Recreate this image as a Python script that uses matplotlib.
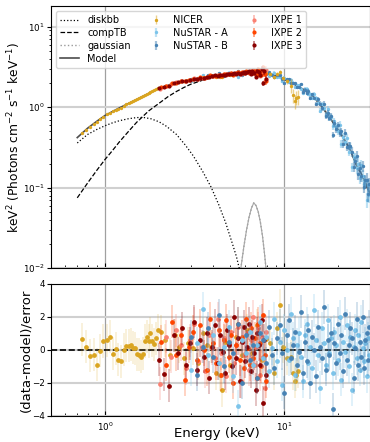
import matplotlib
matplotlib.use("Agg")
import matplotlib.pyplot as plt
from matplotlib.colors import to_rgba
import numpy as np

# Model curves (energy in keV, flux in keV^2 photons cm^-2 s^-1 keV^-1)
model_energy = [0.7, 0.8, 0.9, 1.0, 1.2, 1.5, 2.0, 2.5, 3.0, 3.5,
                4.0, 4.5, 5.0, 5.5, 6.0, 6.5, 7.0, 7.5, 8.0, 8.5,
                9.0, 9.5, 10, 11, 12, 13, 14, 15, 16, 17,
                18, 19, 20, 21, 22, 23, 24, 25, 26, 27,
                28, 29, 30]
model_flux = [0.42, 0.55, 0.67, 0.79, 0.98, 1.25, 1.72, 2.02, 2.20, 2.33,
              2.45, 2.53, 2.60, 2.66, 2.70, 2.72, 2.72, 2.68, 2.62, 2.55,
              2.45, 2.34, 2.22, 2.00, 1.80, 1.62, 1.43, 1.24, 1.05, 0.87,
              0.73, 0.61, 0.52, 0.44, 0.37, 0.31, 0.25, 0.20, 0.17, 0.145,
              0.12, 0.10, 0.085]

diskbb_energy = [0.7, 0.8, 0.9, 1.0, 1.1, 1.2, 1.35, 1.5, 1.65, 1.8,
                 2.0, 2.2, 2.5, 2.8, 3.1, 3.5, 3.9, 4.3, 4.7, 5.1, 5.4, 5.7]
diskbb_flux = [0.36, 0.46, 0.53, 0.59, 0.64, 0.68, 0.72, 0.745, 0.745, 0.72,
               0.66, 0.58, 0.46, 0.34, 0.25, 0.16, 0.102, 0.062, 0.037, 0.021, 0.014, 0.0085]

comptb_energy = [0.7, 0.8, 0.9, 1.0, 1.1, 1.2, 1.35, 1.5, 1.75, 2.0,
                 2.25, 2.5, 2.75, 3.0, 3.5, 4.0, 4.5, 5.0, 5.5, 6.0,
                 6.5, 7.0, 7.5, 8.0, 8.5, 9.0, 9.5, 10, 11, 12,
                 13, 14, 15, 16, 17, 18, 19, 20, 21, 22,
                 23, 24, 25, 26, 27, 28, 29, 30]
comptb_flux = [0.075, 0.115, 0.165, 0.225, 0.29, 0.37, 0.50, 0.65, 0.90, 1.12,
               1.36, 1.57, 1.76, 1.93, 2.17, 2.36, 2.48, 2.57, 2.64, 2.67,
               2.66, 2.66, 2.66, 2.61, 2.55, 2.45, 2.34, 2.22, 2.00, 1.80,
               1.62, 1.43, 1.24, 1.05, 0.87, 0.73, 0.61, 0.52, 0.44, 0.37,
               0.31, 0.25, 0.20, 0.17, 0.145, 0.12, 0.10, 0.085]

gauss_energy = [5.55, 5.75, 5.95, 6.15, 6.35, 6.55, 6.75, 6.95, 7.15, 7.35, 7.55, 7.75, 7.95]
gauss_flux = [0.0065, 0.011, 0.019, 0.030, 0.043, 0.056, 0.065, 0.060, 0.050, 0.037, 0.025, 0.015, 0.0085]

# NICER
nicer_energy = [0.74, 0.78, 0.82, 0.865, 0.90, 0.94, 0.98, 1.02, 1.06, 1.11,
                1.15, 1.18, 1.22, 1.27, 1.31, 1.36, 1.40, 1.43, 1.47, 1.51,
                1.54, 1.58, 1.63, 1.67, 1.71, 1.75, 1.79, 1.83, 1.88, 1.93,
                1.98, 2.05, 2.15, 2.3, 2.45, 2.6, 2.75, 2.9, 3.1, 3.3,
                3.5, 3.7, 3.9, 4.15, 4.4, 4.5, 4.65, 5.0, 5.4, 5.8,
                6.2, 6.6, 7.0, 7.5, 7.9, 8.3, 8.7, 9.1, 9.5, 9.8,
                10.3, 10.9, 11.2, 11.4, 11.6, 11.9]
nicer_flux = [0.473, 0.521, 0.573, 0.623, 0.659, 0.71, 0.764, 0.815, 0.857, 0.888,
              0.931, 0.949, 0.993, 1.04, 1.083, 1.123, 1.163, 1.182, 1.221, 1.257,
              1.286, 1.325, 1.367, 1.418, 1.462, 1.498, 1.545, 1.579, 1.615, 1.672,
              1.72, 1.78, 1.84, 1.90, 2.02, 2.07, 2.10, 2.18, 2.23, 2.25,
              2.36, 2.39, 2.44, 2.38, 2.41, 2.37, 2.57, 2.54, 2.70, 2.66,
              2.79, 2.71, 2.88, 2.62, 2.70, 2.62, 2.37, 2.62, 2.72, 2.30,
              2.09, 1.86, 1.41, 1.19, 1.32, 1.35]
nicer_relerr = [0.01] * 31 + [0.015] * 12 + [0.025] * 9 + [0.04] * 5 + [0.06] * 4 + [0.2] * 5
nicer_resid = [0.66, 0.2, -0.36, -0.3, -0.9, -0.06, 0.54, 0.6, 0.8, -0.22,
               0.06, -0.6, -0.7, 0.02, 0.24, 0.26, 0.3, 0.14, 0.1, -0.26,
               -0.3, -0.4, -0.22, 0.54, 0.8, 0.54, 1.0, 0.56, 0.34, 0.7,
               1.2, 1.1, 0.6, -0.3, 0.9, 0.2, -0.5, 0.4, 0.1, -0.8,
               1.0, 0.3, 0.2, -1.4, -1.5, -2.45, 0.5, -0.9, 0.8, -0.3,
               1.2, -0.2, 1.5, -0.6, 0.66, 0.4, -1.4, 1.3, 2.7, 0.2,
               -0.5, -0.4, -1.4, -1.9, -1.5, -1.3]

# NuSTAR (both modules share the binning)
nustar_energy = [3.0, 3.25, 3.5, 3.75, 4.0, 4.3, 4.6, 4.9, 5.2, 5.5,
                 5.8, 6.1, 6.4, 6.7, 7.0, 7.3, 7.6, 7.9, 8.2, 8.5,
                 8.8, 9.1, 9.4, 9.7, 10.0, 10.3, 10.6, 10.9, 11.2, 11.5,
                 11.8, 12.1, 12.4, 12.7, 13.0, 13.3, 13.6, 13.9, 14.2, 14.6,
                 15.0, 15.4, 15.8, 16.2, 16.6, 17.0, 17.4, 17.8, 18.2, 18.6,
                 19.0, 19.4, 19.8, 20.3, 20.8, 21.3, 21.8, 22.3, 22.8, 23.3,
                 23.8, 24.3, 24.8, 25.3, 25.8, 26.3, 26.8, 27.3, 27.8, 28.3,
                 28.8, 29.3, 29.8]
nustar_relerr = ([0.03] * 18 + [0.04] * 12 + [0.05] * 10 + [0.07] * 5 + [0.09] * 8
                 + [0.12] * 7 + [0.13] * 3 + [0.16] * 7 + [0.2] * 3)
nustarA_flux = [2.12, 2.30, 2.50, 2.37, 2.52, 2.44, 2.56, 2.70, 2.49, 2.39,
                2.73, 2.68, 2.81, 2.65, 2.74, 2.84, 2.63, 2.69, 2.46, 2.56,
                2.68, 2.36, 2.41, 2.10, 2.33, 2.15, 2.04, 2.20, 2.01, 1.79,
                1.87, 1.87, 1.70, 1.51, 1.69, 1.68, 1.45, 1.46, 1.31, 1.48,
                1.29, 1.14, 0.91, 1.10, 0.97, 0.80, 0.94, 0.75, 0.75, 0.58,
                0.67, 0.59, 0.50, 0.61, 0.35, 0.43, 0.375, 0.41, 0.28, 0.32,
                0.18, 0.24, 0.24, 0.175, 0.20, 0.133, 0.19, 0.142, 0.111, 0.122,
                0.071, 0.108, 0.082]
nustarA_resid = [-1.2, 0.4, 2.5, -0.3, 0.9, -0.8, 0.2, 1.4, -1.6, -3.4,
                 0.6, -0.2, 1.1, -0.9, 0.3, 1.7, -0.5, 0.8, -1.3, 0.1,
                 1.9, -0.7, 0.5, -2.1, 1.2, 0.0, -0.6, 2.2, 0.7, -1.5,
                 0.3, 1.0, -0.4, -1.9, 0.9, 1.6, -0.8, 0.2, -1.1, 2.4,
                 0.6, -0.3, -2.3, 1.3, 0.4, -0.9, 1.8, -0.2, 0.7, -1.4,
                 1.1, 0.3, -0.6, 2.0, -1.8, 0.5, -0.1, 1.5, -1.0, 0.8,
                 -2.4, 0.2, 1.2, -0.5, 0.9, -1.2, 1.7, 0.1, -0.7, 0.4,
                 -1.6, 0.7, -0.3]
nustarB_flux = [2.25, 2.17, 2.34, 2.48, 2.42, 2.66, 2.46, 2.63, 2.60, 2.79,
                2.52, 2.77, 2.67, 2.74, 2.58, 2.78, 2.72, 2.57, 2.74, 2.52,
                2.38, 2.50, 2.50, 2.27, 1.99, 2.23, 2.24, 1.98, 1.98, 1.98,
                1.76, 1.77, 1.93, 1.55, 1.66, 1.51, 1.60, 1.31, 1.45, 1.32,
                1.10, 1.27, 1.11, 0.97, 1.11, 0.78, 0.85, 0.74, 0.77, 0.45,
                0.63, 0.53, 0.61, 0.48, 0.50, 0.35, 0.48, 0.325, 0.33, 0.335,
                0.28, 0.183, 0.213, 0.248, 0.15, 0.178, 0.14, 0.185, 0.103, 0.126,
                0.126, 0.084, 0.111]
nustarB_resid = [0.8, -1.5, 0.2, 1.3, -0.4, 2.1, -1.0, 0.5, -0.2, 1.6,
                 -2.0, 0.9, -0.6, 0.3, -1.7, 1.0, 0.6, -0.8, 1.4, -0.3,
                 -1.1, 0.7, 1.5, -0.2, -2.6, 0.9, 1.8, -0.5, 0.3, 1.1,
                 -0.9, -0.1, 2.3, -1.4, 0.5, -0.7, 1.2, -2.0, 0.8, 0.0,
                 -1.6, 1.4, 0.2, -0.5, 2.6, -1.2, 0.6, -0.3, 1.0, -3.6,
                 0.4, -0.8, 1.6, -0.2, 0.9, -1.3, 2.2, -0.6, 0.3, 1.3,
                 0.7, -1.7, 0.1, 1.9, -0.9, 0.5, -0.4, 2.0, -1.1, 0.6,
                 1.0, -0.6, 1.4]

# IXPE detector units
ixpe1_energy = [2.02, 2.18, 2.34, 2.5, 2.66, 2.82, 2.98, 3.14, 3.3, 3.46,
                3.62, 3.78, 3.94, 4.1, 4.26, 4.42, 4.58, 4.74, 4.9, 5.06,
                5.22, 5.38, 5.54, 5.7, 5.86, 6.02, 6.18, 6.34, 6.5, 6.66,
                6.82, 6.98, 7.14, 7.3, 7.46, 7.62, 7.78, 7.94]
ixpe1_flux = [1.69, 1.86, 1.92, 2.05, 2.10, 2.12, 2.21, 2.28, 2.26, 2.32,
              2.32, 2.43, 2.44, 2.45, 2.55, 2.50, 2.56, 2.51, 2.60, 2.64,
              2.59, 2.66, 2.72, 2.59, 2.71, 2.68, 2.78, 2.64, 2.77, 2.88,
              2.60, 2.75, 2.92, 2.46, 2.83, 2.58, 2.10, 2.92]
ixpe1_relerr = ([0.012] * 20 + [0.015] * 5 + [0.02, 0.025, 0.025, 0.03, 0.03]
                + [0.05, 0.05, 0.06, 0.06, 0.07, 0.08, 0.09, 0.10])
ixpe1_resid = [-2.06, 0.8, -0.4, 1.2, 0.3, -1.1, 0.6, 1.6, -0.7, 0.2,
               -1.3, 0.9, 0.1, -0.5, 1.9, -0.2, 0.7, -1.6, 0.4, 1.1,
               -0.8, 0.3, 1.4, -1.9, 0.5, -0.3, 1.0, -1.2, 0.6, 2.0,
               -0.9, 0.2, 1.3, -1.5, 0.8, -0.4, -2.3, 1.1]

ixpe2_energy = [2.05, 2.2, 2.35, 2.5, 2.65, 2.8, 2.95, 3.1, 3.25, 3.4,
                3.55, 3.7, 3.85, 4.0, 4.15, 4.3, 4.45, 4.6, 4.75, 4.9,
                5.05, 5.2, 5.35, 5.5, 5.65, 5.8, 5.95, 6.1, 6.25, 6.4,
                6.55, 6.7, 6.85, 7.0, 7.15, 7.3, 7.45, 7.6, 7.75, 7.9]
ixpe2_flux = [1.76, 1.83, 1.98, 2.01, 2.11, 2.09, 2.18, 2.26, 2.25, 2.35,
              2.34, 2.35, 2.48, 2.46, 2.45, 2.53, 2.47, 2.56, 2.62, 2.58,
              2.65, 2.54, 2.65, 2.72, 2.64, 2.71, 2.63, 2.83, 2.72, 2.65,
              2.83, 2.67, 2.82, 2.49, 2.97, 2.76, 2.49, 3.12, 2.58, 2.13]
ixpe2_relerr = ([0.012] * 20 + [0.015] * 6 + [0.02, 0.025, 0.025, 0.03]
                + [0.03, 0.04, 0.05, 0.05, 0.06, 0.06, 0.07, 0.08, 0.09, 0.10])
ixpe2_resid = [0.5, -0.9, 1.7, -0.3, 0.9, -1.8, 0.2, 1.1, -0.6, 1.5,
               0.0, -1.2, 1.9, 0.4, -0.8, 1.2, -1.5, 0.6, 1.8, -0.4,
               0.9, -2.0, 0.3, 1.6, -0.6, 0.8, -1.1, 1.9, 0.1, -0.9,
               1.3, -0.5, 0.7, -1.7, 1.6, 0.4, -1.0, 2.1, -0.3, -1.9]

ixpe3_energy = [2.0, 2.14, 2.28, 2.42, 2.56, 2.7, 2.84, 2.98, 3.12, 3.26,
                3.4, 3.54, 3.68, 3.82, 3.96, 4.1, 4.24, 4.38, 4.52, 4.66,
                4.8, 4.94, 5.08, 5.22, 5.36, 5.5, 5.64, 5.78, 5.92, 6.06,
                6.2, 6.34, 6.48, 6.62, 6.76, 6.9, 7.04, 7.18, 7.32, 7.46,
                7.6, 7.74, 7.88]
ixpe3_flux = [1.71, 1.78, 1.85, 2.00, 2.05, 2.14, 2.14, 2.20, 2.27, 2.24,
              2.33, 2.33, 2.40, 2.36, 2.44, 2.50, 2.46, 2.54, 2.53, 2.51,
              2.62, 2.60, 2.57, 2.70, 2.62, 2.69, 2.58, 2.70, 2.77, 2.66,
              2.72, 2.83, 2.61, 2.79, 2.70, 2.39, 2.86, 2.76, 2.55, 3.02,
              1.99, 2.79, 2.24]
ixpe3_relerr = ([0.012] * 20 + [0.015] * 8 + [0.02, 0.02]
                + [0.025, 0.025, 0.03, 0.03, 0.04, 0.05, 0.05, 0.06, 0.06, 0.07]
                + [0.08, 0.09, 0.10])
ixpe3_resid = [-0.6, -1.46, -2.16, 0.9, -0.2, 1.3, -0.9, 0.4, 1.7, -1.2,
               0.6, -0.4, 1.0, -1.7, 0.2, 1.5, -0.8, 0.9, -0.1, -1.4,
               1.2, 0.3, -1.0, 2.0, -0.5, 0.7, -1.9, 0.5, 1.4, -0.7,
               0.2, 1.6, -1.3, 0.8, -0.2, -2.4, 1.0, 0.3, -0.9, 1.8,
               -3.2, 0.6, -1.5]

# Colors
nicer_color = "goldenrod"
nustarA_color = "#7cc4ea"
nustarB_color = "steelblue"
ixpe1_color = "salmon"
ixpe2_color = "orangered"
ixpe3_color = "darkred"


def plot_spectrum(ax, energy, flux, relerr, color, label, zorder, ms=1.4, elw=1.0):
    flux = np.asarray(flux)
    err = flux * np.asarray(relerr)
    return ax.errorbar(energy, flux, yerr=err, fmt="o", ms=ms, color=color,
                       ecolor=to_rgba(color, 0.5), elinewidth=elw, capsize=0,
                       label=label, zorder=zorder)


def plot_resid(ax, energy, resid, color, zorder, alpha=0.3):
    ax.errorbar(energy, resid, yerr=np.ones(len(resid)), fmt="o", ms=2.4,
                color=color, ecolor=to_rgba(color, alpha), elinewidth=1.1,
                capsize=0, zorder=zorder)


def main():
    fig = plt.figure(figsize=(3.7, 4.42), dpi=100)
    ax1 = fig.add_axes([0.138, 0.393, 0.862, 0.593])
    ax2 = fig.add_axes([0.138, 0.059, 0.862, 0.2987], sharex=ax1)

    # Spectrum
    h_disk, = ax1.plot(diskbb_energy, diskbb_flux, ls=":", color="k", lw=0.9, zorder=2)
    h_comp, = ax1.plot(comptb_energy, comptb_flux, ls="--", color="k", lw=0.9, zorder=2)
    h_gaus, = ax1.plot(gauss_energy, gauss_flux, ls=":", color="0.6", lw=1.0, zorder=2)
    ax1.plot(gauss_energy, gauss_flux, ls="-", color="0.65", lw=0.8, zorder=2)
    h_model, = ax1.plot(model_energy, model_flux, ls="-", color="0.3", lw=1.2, zorder=2.5)

    h_nuA = plot_spectrum(ax1, nustar_energy, nustarA_flux, nustar_relerr, nustarA_color, "NuSTAR - A", 3, elw=1.6)
    h_nuB = plot_spectrum(ax1, nustar_energy, nustarB_flux, nustar_relerr, nustarB_color, "NuSTAR - B", 3.1, elw=1.6)
    h_nic = plot_spectrum(ax1, nicer_energy, nicer_flux, nicer_relerr, nicer_color, "NICER", 3.2)
    h_ix1 = plot_spectrum(ax1, ixpe1_energy, ixpe1_flux, ixpe1_relerr, ixpe1_color, "IXPE 1", 3.3, ms=2.0, elw=1.3)
    h_ix2 = plot_spectrum(ax1, ixpe2_energy, ixpe2_flux, ixpe2_relerr, ixpe2_color, "IXPE 2", 3.4, ms=2.0, elw=1.3)
    h_ix3 = plot_spectrum(ax1, ixpe3_energy, ixpe3_flux, ixpe3_relerr, ixpe3_color, "IXPE 3", 3.5, ms=2.0, elw=1.3)

    ax1.set_xscale("log")
    ax1.set_yscale("log")
    ax1.set_xlim(0.5, 30)
    ax1.set_ylim(0.01, 18)
    ax1.set_ylabel("keV$^2$ (Photons cm$^{-2}$ s$^{-1}$ keV$^{-1}$)", fontsize=8.8)
    ax1.yaxis.set_label_coords(-0.088, 0.5)
    ax1.grid(True, axis="y", which="major", color="#d0d0d0", lw=1.5)
    ax1.grid(True, axis="x", which="major", color="#a0a0a0", lw=0.9)
    ax1.tick_params(axis="x", which="both", direction="in", labelbottom=False)
    ax1.tick_params(axis="y", which="major", length=3, pad=1.5)
    ax1.tick_params(axis="y", which="minor", length=1.8)
    ax1.tick_params(axis="both", labelsize=6.3)

    handles = [h_disk, h_comp, h_gaus, h_model, h_nic, h_nuA, h_nuB, h_ix1, h_ix2, h_ix3]
    labels = ["diskbb", "compTB", "gaussian", "Model", "NICER", "NuSTAR - A",
              "NuSTAR - B", "IXPE 1", "IXPE 2", "IXPE 3"]
    ax1.legend(handles, labels, loc="upper left", ncol=3, fontsize=7,
               labelspacing=0.3, columnspacing=1.6, handlelength=2.0)

    # Residuals
    ax2.axhline(0, color="k", ls="--", lw=1.2, zorder=2)
    plot_resid(ax2, nicer_energy, nicer_resid, nicer_color, 3, alpha=0.2)
    plot_resid(ax2, ixpe1_energy, ixpe1_resid, ixpe1_color, 3.1)
    plot_resid(ax2, ixpe2_energy, ixpe2_resid, ixpe2_color, 3.2)
    plot_resid(ax2, ixpe3_energy, ixpe3_resid, ixpe3_color, 3.3)
    plot_resid(ax2, nustar_energy, nustarA_resid, nustarA_color, 3.4)
    plot_resid(ax2, nustar_energy, nustarB_resid, nustarB_color, 3.5)

    ax2.set_ylim(-4, 4)
    ax2.set_yticks([-4, -2, 0, 2, 4])
    ax2.set_ylabel("(data-model)/error", fontsize=9.5)
    ax2.yaxis.set_label_coords(-0.058, 0.5)
    ax2.set_xlabel("Energy (keV)", fontsize=9.5)
    ax2.xaxis.set_label_coords(0.52, -0.085)
    ax2.grid(True, axis="y", which="major", color="#d0d0d0", lw=1.5)
    ax2.grid(True, axis="x", which="major", color="#a0a0a0", lw=0.9)
    ax2.tick_params(axis="x", which="both", direction="in")
    ax2.tick_params(axis="y", which="major", length=3, pad=1.5)
    ax2.tick_params(axis="both", labelsize=6.3)

    fig.savefig("out.png", dpi=100)


if __name__ == "__main__":
    main()
